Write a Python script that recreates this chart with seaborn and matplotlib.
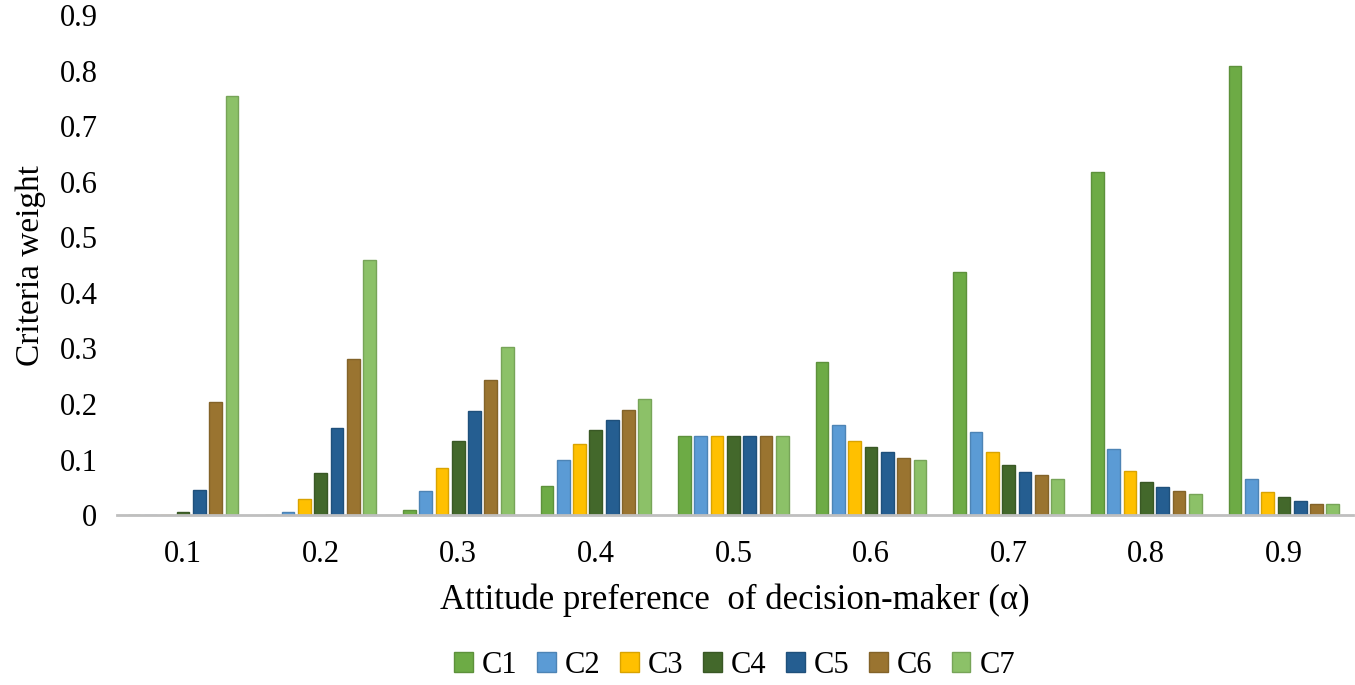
import matplotlib
matplotlib.use("Agg")
import matplotlib.pyplot as plt
import matplotlib.colors as mcolors
import seaborn as sns
import pandas as pd
import numpy as np

alphas = ["0.1", "0.2", "0.3", "0.4", "0.5", "0.6", "0.7", "0.8", "0.9"]
criteria = ["C1", "C2", "C3", "C4", "C5", "C6", "C7"]
C1 = [0.0, 0.0, 0.010, 0.053, 0.143, 0.275, 0.437, 0.617, 0.809]
C2 = [0.0, 0.006, 0.044, 0.100, 0.143, 0.163, 0.150, 0.119, 0.065]
C3 = [0.0, 0.029, 0.085, 0.128, 0.143, 0.134, 0.113, 0.079, 0.041]
C4 = [0.006, 0.076, 0.134, 0.153, 0.143, 0.122, 0.090, 0.059, 0.032]
C5 = [0.045, 0.156, 0.187, 0.171, 0.143, 0.113, 0.078, 0.050, 0.026]
C6 = [0.203, 0.281, 0.243, 0.190, 0.143, 0.103, 0.072, 0.044, 0.020]
C7 = [0.754, 0.460, 0.302, 0.209, 0.143, 0.100, 0.065, 0.038, 0.020]
colors = ["#6DAB45", "#5B9BD5", "#FFC000", "#43682B", "#255E91", "#9A7430", "#8CC168"]

series = [C1, C2, C3, C4, C5, C6, C7]
rows = []
for name, vals in zip(criteria, series):
    for a, v in zip(alphas, vals):
        rows.append({"alpha": a, "criterion": name, "weight": v})
df = pd.DataFrame(rows)

sns.set_theme(style="white")
plt.rcParams["font.family"] = ["Liberation Serif", "DejaVu Serif"]
plt.rcParams["text.color"] = "black"
plt.rcParams["axes.labelcolor"] = "black"
plt.rcParams["xtick.color"] = "black"
plt.rcParams["ytick.color"] = "black"

fig = plt.figure(figsize=(13.55, 6.85), dpi=100)
ax = fig.add_axes([0.0863, 0.248, 0.912, 0.730])

sns.barplot(data=df, x="alpha", y="weight", hue="criterion", order=alphas,
            hue_order=criteria, palette=colors, width=0.83, gap=0.22,
            errorbar=None, ax=ax, legend=True, saturation=1)

for p in ax.patches:
    fc = np.array(mcolors.to_rgb(p.get_facecolor()))
    p.set_edgecolor(tuple(fc * 0.85))
    p.set_linewidth(1.0)

ax.set_xlim(-0.48, 8.5)
ax.set_ylim(0, 0.9)
ax.set_yticks(np.arange(0, 0.91, 0.1))
ax.set_yticklabels(["0"] + [f"{v:.1f}" for v in np.arange(0.1, 0.91, 0.1)])
ax.tick_params(axis="y", length=0, pad=14, labelsize=22)
ax.tick_params(axis="x", length=0, pad=18, labelsize=22)
for s in ["top", "right", "left"]:
    ax.spines[s].set_visible(False)
ax.spines["bottom"].set_color("#BFBFBF")
ax.spines["bottom"].set_linewidth(2)
ax.grid(False)

ax.set_xlabel("Attitude preference  of decision-maker (\u03b1)", fontsize=25, labelpad=10)
ax.set_ylabel("Criteria weight", fontsize=24, labelpad=10)

handles, labels = ax.get_legend_handles_labels()
leg = ax.legend(handles, labels, loc="center", bbox_to_anchor=(0.5, -0.30), ncol=7,
                frameon=False, fontsize=22, handlelength=0.6, handleheight=0.6,
                handletextpad=0.3, columnspacing=0.65)
for h in leg.legend_handles:
    fc = np.array(mcolors.to_rgb(h.get_facecolor()))
    h.set_edgecolor(tuple(fc * 0.85))
    h.set_linewidth(1.0)

fig.savefig("out.png", dpi=100)
